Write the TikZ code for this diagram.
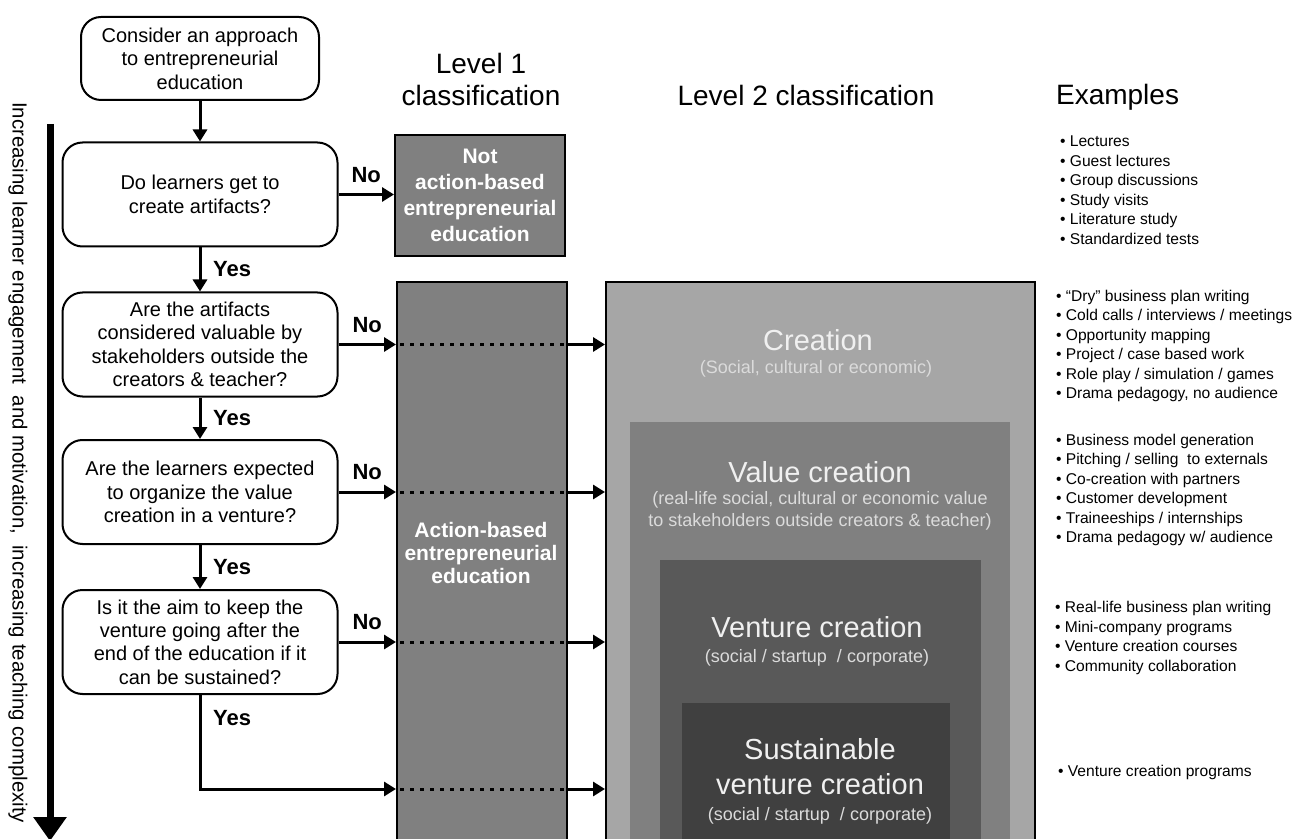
\documentclass[tikz,border=0pt]{standalone}
\usepackage{fontspec}
\setmainfont{Liberation Sans}
\usetikzlibrary{arrows.meta}

\tikzset{
	question/.style={draw, rounded corners=10pt, line width=1pt, align=center, inner sep=2pt,
		minimum width=137.5pt, minimum height=52pt, font=\fontsize{10}{11.7}\selectfont},
	flow/.style={line width=1.5pt, -{Triangle[length=6pt, width=7pt]}},
	dotline/.style={line width=1.5pt, dash pattern=on 2pt off 3pt},
	answer/.style={font=\fontsize{11}{12}\selectfont\bfseries},
	levelbox/.style={anchor=north west, inner sep=0pt},
	boxtitle/.style={text=white!94!black, align=center, font=\fontsize{14.5}{17.5}\selectfont},
	boxsub/.style={text=white!86!black, align=center, font=\fontsize{9}{11}\selectfont},
	header/.style={align=center, font=\fontsize{14}{16}\selectfont},
	examples/.style={anchor=west, align=left, font=\fontsize{7.8}{9.75}\selectfont}
}

\begin{document}
\begin{tikzpicture}[x=0.5pt, y=-0.5pt]
		\path[use as bounding box, clip] (0, 0) rectangle (1300, 839);

		\node[header] at (481, 79) (lvl1) {Level 1\\classification};
		\node[header] at (806, 95) (lvl2) {Level 2 classification};
		\node[header, anchor=west] at (1049, 97) (ex) {Examples};

		\node[question, minimum width=119pt, minimum height=41.5pt] at (200, 58.5) (start) {Consider an approach\\to entrepreneurial\\education};
		\node[question] at (200, 194.5) (q1) {Do learners get to\\create artifacts?};
		\node[question] at (200, 344.5) (q2) {Are the artifacts\\considered valuable by\\stakeholders outside the\\creators \& teacher?};
		\node[question] at (200, 492) (q3) {Are the learners expected\\to organize the value\\creation in a venture?};
		\node[question] at (200, 642) (q4) {Is it the aim to keep the\\venture going after the\\end of the education if it\\can be sustained?};

		\node[draw, line width=1pt, fill=black!50, minimum width=85pt, minimum height=60.5pt, text=white, align=center,
			font=\fontsize{10.5}{13}\selectfont\bfseries] at (480, 195.5) (na) {Not\\action-based\\entrepreneurial\\education};
		\node[levelbox, draw, line width=1pt, fill=black!50, minimum width=85pt, minimum height=290pt] at (396, 281) (ab) {};
		\node[text=white, align=center, font=\fontsize{10.5}{11.5}\selectfont\bfseries] at (481, 553) (abtxt) {Action-based\\entrepreneurial\\education};

		\node[levelbox, draw, line width=1pt, fill=black!35, minimum width=214.5pt, minimum height=290pt] at (605, 281) (cr) {};
		\node[levelbox, fill=black!50, minimum width=190pt, minimum height=230pt] at (630, 422) (vc) {};
		\node[levelbox, fill=black!65, minimum width=160.5pt, minimum height=160pt] at (660, 560) (ven) {};
		\node[levelbox, fill=black!75, minimum width=134pt, minimum height=90pt] at (682, 703) (sus) {};

		\node[boxtitle] at (818, 340) (crname) {Creation};
		\node[boxsub] at (816, 369) (crsub) {(Social, cultural or economic)};
		\node[boxtitle] at (820, 472) (vcname) {Value creation};
		\node[boxsub] at (820, 511) (vcsub) {(real-life social, cultural or economic value\\to stakeholders outside creators \& teacher)};
		\node[boxtitle] at (817, 627) (venname) {Venture creation};
		\node[boxsub] at (817, 658) (vensub) {(social / startup \ / corporate)};
		\node[boxtitle] at (820, 767) (susname) {Sustainable\\venture creation};
		\node[boxsub] at (820, 816) (sussub) {(social / startup \ / corporate)};

		\draw[flow] (start) -- (q1);
		\draw[flow] (q1) -- node[answer, right, xshift=2.5pt] {Yes} (q2);
		\draw[flow] (q2) -- node[answer, right, xshift=2.5pt] {Yes} (q3);
		\draw[flow] (q3) -- node[answer, right, xshift=2.5pt] {Yes} (q4);
		\coordinate (turn) at (200, 789);
		\draw[flow] (q4.south) -- node[answer, right, xshift=2.5pt, pos=0.24] {Yes} (turn) -- (turn -| ab.west);

		\draw[flow] (q1.east) -- node[answer, above, yshift=2pt] {No} (q1.east -| na.west);
		\draw[flow] (q2.east) -- node[answer, above, yshift=2pt] {No} (q2.east -| ab.west);
		\draw[flow] (q3.east) -- node[answer, above, yshift=2pt] {No} (q3.east -| ab.west);
		\draw[flow] (q4.east) -- node[answer, above, yshift=2pt] {No} (q4.east -| ab.west);

		\draw[dotline] ([xshift=2pt] q2.east -| ab.west) -- (q2.east -| ab.east);
		\draw[dotline] ([xshift=2pt] q3.east -| ab.west) -- (q3.east -| ab.east);
		\draw[dotline] ([xshift=2pt] q4.east -| ab.west) -- (q4.east -| ab.east);
		\draw[dotline] ([xshift=2pt] turn -| ab.west) -- (turn -| ab.east);

		\draw[flow] (q2.east -| ab.east) -- (q2.east -| cr.west);
		\draw[flow] (q3.east -| ab.east) -- (q3.east -| cr.west);
		\draw[flow] (q4.east -| ab.east) -- (q4.east -| cr.west);
		\draw[flow] (turn -| ab.east) -- (turn -| cr.west);

		\coordinate (axtop) at (50, 124);
		\coordinate (axbot) at (50, 841);
		\draw[line width=3.5pt, -{Triangle[length=12pt, width=16pt]}] (axtop) -- (axbot);
		\node[rotate=-90, anchor=west, font=\fontsize{10.2}{12}\selectfont] at (18, 95) (axis) {Increasing learner engagement \ and motivation, \ increasing teaching complexity};

		\node[examples] at (1053, 190) (ex1) {\textbullet\ Lectures\\\textbullet\ Guest lectures\\\textbullet\ Group discussions\\\textbullet\ Study visits\\\textbullet\ Literature study\\\textbullet\ Standardized tests};
		\node[examples] at (1049, 346) (ex2) {\textbullet\ “Dry” business plan writing\\\textbullet\ Cold calls / interviews / meetings\\\textbullet\ Opportunity mapping\\\textbullet\ Project / case based work\\\textbullet\ Role play / simulation / games\\\textbullet\ Drama pedagogy, no audience};
		\node[examples] at (1049, 490) (ex3) {\textbullet\ Business model generation\\\textbullet\ Pitching / selling \ to externals\\\textbullet\ Co-creation with partners\\\textbullet\ Customer development\\\textbullet\ Traineeships / internships\\\textbullet\ Drama pedagogy w/ audience};
		\node[examples] at (1048, 638) (ex4) {\textbullet\ Real-life business plan writing\\\textbullet\ Mini-company programs\\\textbullet\ Venture creation courses\\\textbullet\ Community collaboration};
		\node[examples] at (1051, 772) (ex5) {\textbullet\ Venture creation programs};
	\end{tikzpicture}
\end{document}
